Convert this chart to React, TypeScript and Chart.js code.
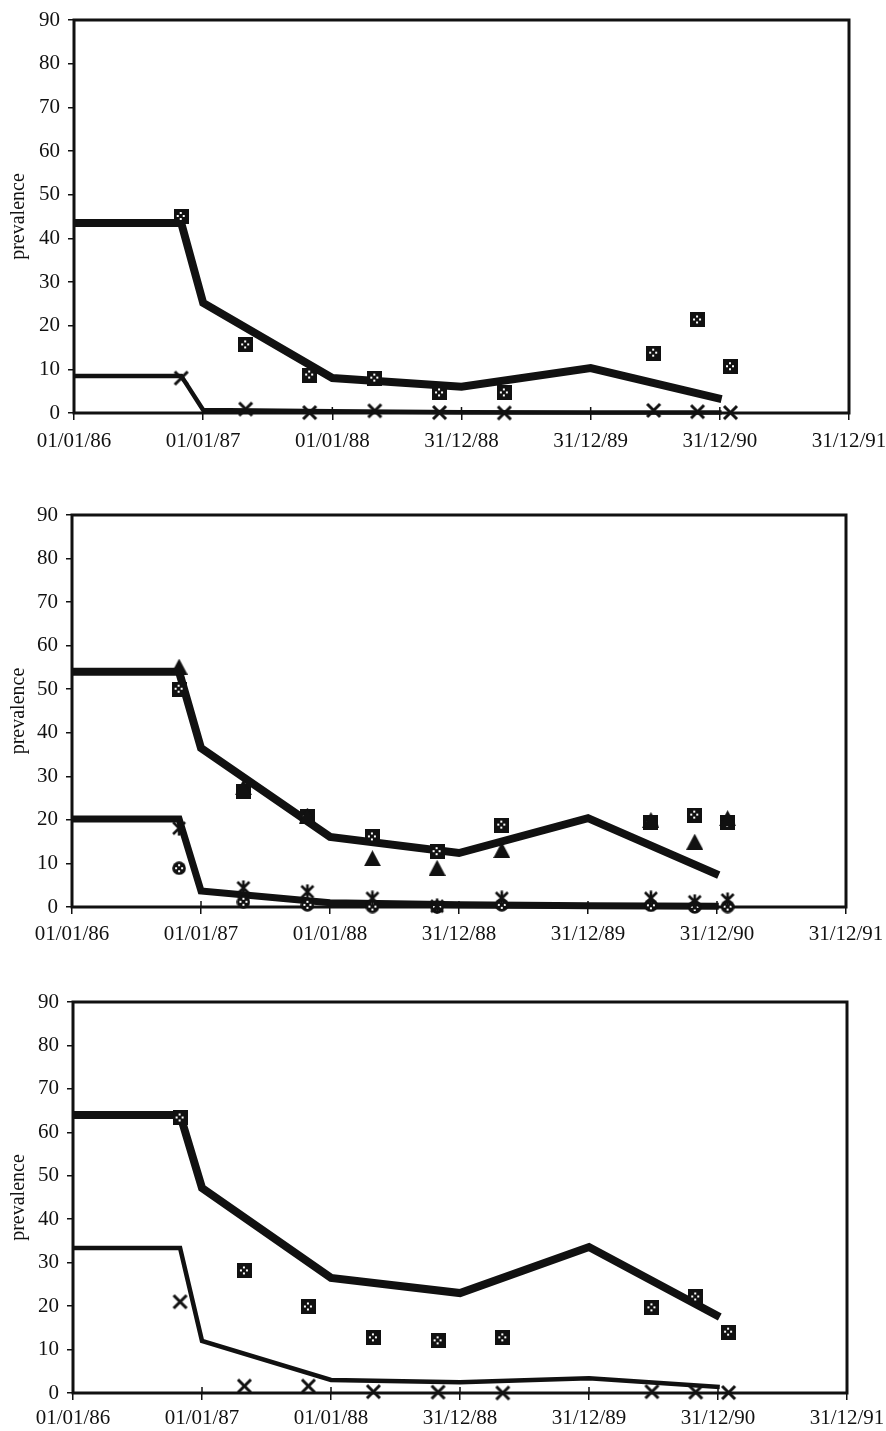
import React, { useEffect, useRef } from 'react';
import { Chart, registerables } from 'chart.js';

Chart.register(...registerables);

// ---------- data ----------
const xTickLabels = ['01/01/86', '01/01/87', '01/01/88', '31/12/88', '31/12/89', '31/12/90', '31/12/91'];
const xStepDays = 365;
const yMin = 0;
const yMax = 90;
const yStep = 10;
const yTitle = 'prevalence';

// days since 01/01/86
const modelDays = [0, 303, 365, 730, 1095, 1460, 1830];
const obsDays = [303, 485, 666, 850, 1033, 1216, 1638, 1762, 1855];

// panel 1
const p1ModelHigh = [43.5, 43.5, 25.2, 8.0, 6.0, 10.3, 3.2];
const p1ModelLow = [8.5, 8.5, 0.7, 0.4, 0.2, 0.1, 0.1];
const p1ObsSquare = [45.0, 15.6, 8.7, 8.0, 4.6, 4.6, 13.7, 21.3, 10.6];
const p1ObsCross = [8.0, 0.9, 0.1, 0.5, 0.1, 0.0, 0.6, 0.3, 0.1];

// panel 2
const p2ModelHigh = [54.0, 54.0, 36.5, 16.1, 12.4, 20.4, 7.3];
const p2ModelLow = [20.2, 20.2, 3.7, 1.0, 0.5, 0.3, 0.2];
const p2ObsSquare = [50.0, 26.6, 20.7, 16.1, 12.7, 18.8, 19.3, 21.1, 19.3];
const p2ObsTriangle = [55.2, 27.5, 21.0, 11.2, 9.0, 13.1, 20.0, 15.0, 20.4];
const p2ObsStar = [18.1, 4.4, 3.5, 2.0, 0.2, 2.0, 2.0, 1.2, 1.6];
const p2ObsCircle = [8.9, 1.2, 0.5, 0.1, 0.0, 0.5, 0.4, 0.0, 0.1];

// panel 3
const p3ModelHigh = [64.0, 64.0, 47.2, 26.5, 23.0, 33.6, 17.5];
const p3ModelLow = [33.4, 33.4, 12.0, 3.0, 2.5, 3.4, 1.4];
const p3ObsSquare = [63.3, 28.1, 19.8, 12.7, 12.0, 12.7, 19.6, 22.1, 14.0];
const p3ObsCross = [21.0, 1.6, 1.6, 0.3, 0.2, 0.0, 0.3, 0.2, 0.1];

// ---------- styles ----------
const FONT = '"Liberation Serif", "Times New Roman", serif';
const INK = '#111111';

type MarkerKind = 'square' | 'cross' | 'triangle' | 'star' | 'circle';

function makeMarker(kind: MarkerKind): HTMLCanvasElement {
  const c = document.createElement('canvas');
  const dots = (g: CanvasRenderingContext2D, cx: number, cy: number) => {
    g.fillStyle = '#ffffff';
    const d = [[0, -3], [-3, 0], [3, 0], [0, 3]];
    d.forEach(([dx, dy]) => g.fillRect(cx + dx - 1, cy + dy - 1, 2, 2));
  };
  if (kind === 'square') {
    c.width = 15; c.height = 15;
    const g = c.getContext('2d')!;
    g.fillStyle = INK;
    g.fillRect(0, 0, 15, 15);
    dots(g, 7, 7);
  } else if (kind === 'circle') {
    c.width = 14; c.height = 14;
    const g = c.getContext('2d')!;
    g.fillStyle = INK;
    g.beginPath();
    g.arc(7, 7, 6.8, 0, Math.PI * 2);
    g.fill();
    dots(g, 7, 7);
  } else if (kind === 'triangle') {
    c.width = 17; c.height = 16;
    const g = c.getContext('2d')!;
    g.fillStyle = INK;
    g.beginPath();
    g.moveTo(8.5, 0);
    g.lineTo(17, 16);
    g.lineTo(0, 16);
    g.closePath();
    g.fill();
  } else if (kind === 'cross') {
    c.width = 17; c.height = 17;
    const g = c.getContext('2d')!;
    g.strokeStyle = INK;
    g.lineWidth = 3;
    g.beginPath();
    g.moveTo(2, 2); g.lineTo(15, 15);
    g.moveTo(15, 2); g.lineTo(2, 15);
    g.stroke();
  } else {
    c.width = 16; c.height = 16;
    const g = c.getContext('2d')!;
    g.strokeStyle = INK;
    g.lineWidth = 2.6;
    g.beginPath();
    g.moveTo(2, 2); g.lineTo(14, 14);
    g.moveTo(14, 2); g.lineTo(2, 14);
    g.moveTo(8, 0.5); g.lineTo(8, 15.5);
    g.stroke();
  }
  return c;
}

interface LineSpec { values: number[]; width: number }
interface ObsSpec { values: number[]; marker: MarkerKind }
interface Panel {
  top: number;
  height: number;
  padTop: number;
  padRight: number;
  yW: number;
  xH: number;
  labelPad: number;
  lines: LineSpec[];
  obs: ObsSpec[];
}

const panels: Panel[] = [
  {
    top: 0, height: 460, padTop: 20, padRight: 37, yW: 74, xH: 47, labelPad: 9,
    lines: [{ values: p1ModelHigh, width: 8 }, { values: p1ModelLow, width: 4.5 }],
    obs: [{ values: p1ObsSquare, marker: 'square' }, { values: p1ObsCross, marker: 'cross' }],
  },
  {
    top: 495, height: 459, padTop: 20, padRight: 40, yW: 72, xH: 47, labelPad: 8,
    lines: [{ values: p2ModelHigh, width: 8 }, { values: p2ModelLow, width: 7 }],
    obs: [
      { values: p2ObsTriangle, marker: 'triangle' },
      { values: p2ObsSquare, marker: 'square' },
      { values: p2ObsStar, marker: 'star' },
      { values: p2ObsCircle, marker: 'circle' },
    ],
  },
  {
    top: 982, height: 449, padTop: 20, padRight: 39, yW: 73, xH: 38, labelPad: 6,
    lines: [{ values: p3ModelHigh, width: 8 }, { values: p3ModelLow, width: 4.5 }],
    obs: [{ values: p3ObsSquare, marker: 'square' }, { values: p3ObsCross, marker: 'cross' }],
  },
];

const pts = (xs: number[], ys: number[]) => ys.map((y, i) => ({ x: xs[i], y }));

const framePlugin = {
  id: 'frame',
  beforeDatasetsDraw(chart: any) {
    const { ctx, chartArea: a } = chart;
    ctx.save();
    ctx.strokeStyle = INK;
    ctx.lineWidth = 3;
    ctx.strokeRect(a.left, a.top, a.right - a.left, a.bottom - a.top);
    const xs = chart.scales.x;
    ctx.lineWidth = 1.5;
    xs.ticks.forEach((t: any) => {
      const px = xs.getPixelForValue(t.value);
      ctx.beginPath();
      ctx.moveTo(px, a.bottom);
      ctx.lineTo(px, a.bottom - 6);
      ctx.stroke();
    });
    ctx.restore();
  },
};

function PanelChart({ panel }: { panel: Panel }) {
  const ref = useRef<HTMLCanvasElement | null>(null);
  useEffect(() => {
    if (!ref.current) return;
    const datasets: any[] = [];
    panel.obs.forEach((o, i) => {
      datasets.push({
        data: pts(obsDays, o.values),
        showLine: false,
        pointStyle: makeMarker(o.marker),
        pointRadius: 7,
        pointHoverRadius: 7,
        borderColor: INK,
        backgroundColor: INK,
        clip: false,
        order: 1 + i * 0.01,
      });
    });
    panel.lines.forEach((l) => {
      datasets.push({
        data: pts(modelDays, l.values),
        borderColor: INK,
        backgroundColor: INK,
        borderWidth: l.width,
        pointRadius: 0,
        pointHoverRadius: 0,
        fill: false,
        tension: 0,
        borderJoinStyle: 'miter',
        borderCapStyle: 'butt',
        clip: false,
        order: 5,
      });
    });
    const chart = new Chart(ref.current, {
      type: 'line',
      data: { datasets },
      plugins: [framePlugin],
      options: {
        responsive: false,
        animation: false,
        events: [],
        layout: { padding: { top: panel.padTop, right: panel.padRight, left: 0, bottom: 0 } },
        plugins: { legend: { display: false }, tooltip: { enabled: false } },
        scales: {
          x: {
            type: 'linear',
            min: 0,
            max: xStepDays * (xTickLabels.length - 1),
            ticks: {
              stepSize: xStepDays,
              autoSkip: false,
              maxRotation: 0,
              padding: panel.labelPad,
              color: INK,
              font: { family: FONT, size: 21 },
              callback: (v: any) => xTickLabels[Math.round(Number(v) / xStepDays)] ?? '',
            },
            grid: { drawOnChartArea: false, drawTicks: true, tickLength: 7, color: INK, lineWidth: 1.5 },
            border: { display: false },
            afterFit: (s: any) => { s.height = panel.xH; s.paddingLeft = 0; s.paddingRight = 0; },
          },
          y: {
            type: 'linear',
            min: yMin,
            max: yMax,
            ticks: { stepSize: yStep, padding: 8, color: INK, font: { family: FONT, size: 21 } },
            grid: { drawOnChartArea: false, drawTicks: true, tickLength: 6, color: INK, lineWidth: 1.5 },
            border: { display: false },
            title: {
              display: true,
              text: yTitle,
              color: INK,
              font: { family: FONT, size: 20 },
              padding: { top: 7, bottom: 0 },
            },
            afterFit: (s: any) => { s.width = panel.yW; s.paddingTop = 0; s.paddingBottom = 0; },
          },
        },
      } as any,
    });
    return () => chart.destroy();
  }, [panel]);
  return (
    <canvas
      ref={ref}
      width={886}
      height={panel.height}
      style={{ position: 'absolute', left: 0, top: panel.top, width: 886, height: panel.height }}
    />
  );
}

export default function App() {
  return (
    <div style={{ position: 'absolute', left: 0, top: 0, width: 886, height: 1431, background: '#ffffff', overflow: 'hidden' }}>
      {panels.map((p, i) => (
        <PanelChart key={i} panel={p} />
      ))}
    </div>
  );
}
